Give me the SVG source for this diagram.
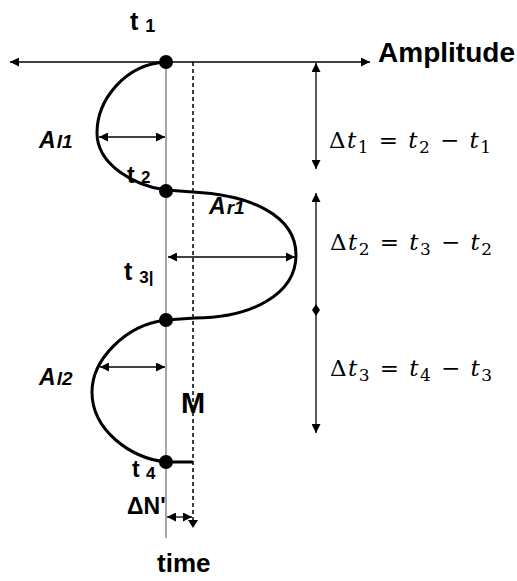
<svg xmlns="http://www.w3.org/2000/svg" width="517" height="581" viewBox="0 0 517 581">
<defs>
<marker id="ah" viewBox="0 0 10 10" refX="10" refY="5" markerWidth="9" markerHeight="9" markerUnits="userSpaceOnUse" orient="auto-start-reverse"><path d="M0,0 L10,5 L0,10 Z" fill="#000"/></marker>
<style>
.lbl{font-family:"Liberation Sans",Arial,sans-serif;font-weight:bold;fill:#000}
.ital{font-family:"Liberation Sans",Arial,sans-serif;font-weight:bold;font-style:italic;fill:#000}
.eq{font-family:"DejaVu Serif","Liberation Serif",serif;font-size:23px;fill:#000}
.it{font-style:italic}
.sub{font-size:17px}
.thin{stroke:#000;stroke-width:1.3;fill:none}
.curve{stroke:#000;stroke-width:3;fill:none}
</style>
</defs>
<rect width="517" height="581" fill="#fff"/>
<g id="labels-behind">
<text class="lbl" x="127" y="183" font-size="23">t <tspan font-size="17">2</tspan></text>
<text class="ital" x="209" y="214" font-size="23">A<tspan font-size="19" dx="1">r1</tspan></text>
</g>
<g id="axes">
<line x1="166" y1="62" x2="166" y2="538" stroke="#8a8a8a" stroke-width="1.5"/>
<line x1="193" y1="62" x2="193" y2="522" stroke="#000" stroke-width="1.5" stroke-dasharray="4,3"/>
<path d="M188,520 L198,520 L193,528 Z" fill="#000"/>
<line class="thin" x1="10" y1="62" x2="370" y2="62" marker-start="url(#ah)" marker-end="url(#ah)"/>
</g>
<g id="connectors">
<line class="thin" x1="99" y1="137" x2="165" y2="137" marker-start="url(#ah)" marker-end="url(#ah)"/>
<line class="thin" x1="168" y1="257" x2="295" y2="257" marker-start="url(#ah)" marker-end="url(#ah)"/>
<line class="thin" x1="100" y1="367" x2="165" y2="367" marker-start="url(#ah)" marker-end="url(#ah)"/>
<line class="thin" x1="167" y1="517" x2="192" y2="517" marker-start="url(#ah)" marker-end="url(#ah)"/>
<line class="thin" x1="316" y1="63" x2="316" y2="169" marker-start="url(#ah)" marker-end="url(#ah)"/>
<line class="thin" x1="316" y1="193" x2="316" y2="433" marker-start="url(#ah)" marker-end="url(#ah)"/>
<path d="M316,304 L320,310 L316,316 L312,310 Z" fill="#000"/>
</g>
<g id="wave">
<path class="curve" d="M166,62 C125,64 97,100 97,133 C97,165 135,186 166,190 L193,192 C250,195 296,215 296,255 C296,295 250,318 195,318 L166,320 C125,325 92,360 92,392 C92,430 130,458 166,462 L193,462"/>
</g>
<g id="dots">
<circle cx="166" cy="62" r="7"/>
<circle cx="166" cy="191" r="7"/>
<circle cx="166" cy="320" r="7"/>
<circle cx="166" cy="462" r="7"/>
</g>
<g id="labels">
<text class="lbl" x="130" y="30" font-size="25">t <tspan font-size="18" dy="2">1</tspan></text>
<text class="lbl" x="378" y="62" font-size="28" textLength="137" lengthAdjust="spacingAndGlyphs">Amplitude</text>
<text class="ital" x="39" y="148" font-size="23">A<tspan font-size="19" dx="1">l1</tspan></text>
<text class="lbl" x="124" y="280" font-size="25">t <tspan font-size="17" dy="3">3|</tspan></text>
<text class="ital" x="39" y="385" font-size="23">A<tspan font-size="19" dx="1">l2</tspan></text>
<text class="lbl" x="181" y="413" font-size="29">M</text>
<text class="lbl" x="132" y="477" font-size="23">t <tspan font-size="17" dy="2">4</tspan></text>
<text class="lbl" x="127" y="514" font-size="23">ΔN'</text>
<text class="lbl" x="157" y="572" font-size="26">time</text>
</g>
<g id="equations">
<text class="eq" x="329" y="148" textLength="162" lengthAdjust="spacing">Δ<tspan class="it">t</tspan><tspan class="sub" dy="5">1</tspan><tspan dy="-5"> = </tspan><tspan class="it">t</tspan><tspan class="sub" dy="5">2</tspan><tspan dy="-5"> − </tspan><tspan class="it">t</tspan><tspan class="sub" dy="5">1</tspan></text>
<text class="eq" x="330" y="250" textLength="162" lengthAdjust="spacing">Δ<tspan class="it">t</tspan><tspan class="sub" dy="5">2</tspan><tspan dy="-5"> = </tspan><tspan class="it">t</tspan><tspan class="sub" dy="5">3</tspan><tspan dy="-5"> − </tspan><tspan class="it">t</tspan><tspan class="sub" dy="5">2</tspan></text>
<text class="eq" x="330" y="376" textLength="162" lengthAdjust="spacing">Δ<tspan class="it">t</tspan><tspan class="sub" dy="5">3</tspan><tspan dy="-5"> = </tspan><tspan class="it">t</tspan><tspan class="sub" dy="5">4</tspan><tspan dy="-5"> − </tspan><tspan class="it">t</tspan><tspan class="sub" dy="5">3</tspan></text>
</g>
</svg>
